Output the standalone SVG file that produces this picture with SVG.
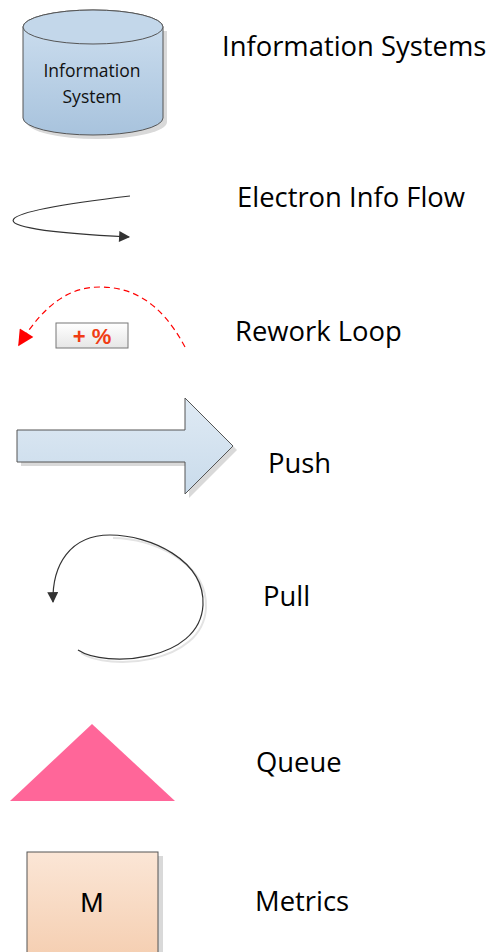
<svg xmlns="http://www.w3.org/2000/svg" width="502" height="952" viewBox="0 0 502 952">
<style>
.lbl{font-family:"Open Sans","Liberation Sans",sans-serif;font-size:27.4px;fill:#000}
.shadow{fill:#d9d9d9;stroke:none}
.edge{fill:none;stroke:#333;stroke-width:1.2}
</style>
<defs>
<linearGradient id="gBlue" x1="0" y1="0" x2="0" y2="1">
<stop offset="0" stop-color="#cfe0f0"/><stop offset="1" stop-color="#a8c3dd"/>
</linearGradient>
<linearGradient id="gArrow" x1="0" y1="0" x2="0" y2="1">
<stop offset="0" stop-color="#dfeaf4"/><stop offset="1" stop-color="#c9dbeb"/>
</linearGradient>
<linearGradient id="gPeach" x1="0" y1="0" x2="0" y2="1">
<stop offset="0" stop-color="#fbe6d6"/><stop offset="1" stop-color="#f5cfb2"/>
</linearGradient>
<linearGradient id="gBox" x1="0" y1="0" x2="0" y2="1">
<stop offset="0" stop-color="#ffffff"/><stop offset="1" stop-color="#e6e6e6"/>
</linearGradient>
<marker id="mDark" viewBox="0 0 10 10" refX="9" refY="5" markerWidth="14" markerHeight="11" markerUnits="userSpaceOnUse" orient="auto">
<path d="M0,0 L10,5 L0,10 z" fill="#333"/>
</marker>
<marker id="mRed" viewBox="0 0 10 10" refX="9" refY="5" markerWidth="18" markerHeight="16" markerUnits="userSpaceOnUse" orient="auto">
<path d="M0,0 L10,5 L0,10 z" fill="#ff0000"/>
</marker>
</defs>

<g id="info-system">
<path class="shadow" d="M27,31 L27,122 A70,17 0 0 0 167,122 L167,31 z"/>
<path d="M23,27 L23,118 A70,17 0 0 0 163,118 L163,27 A70,17 0 0 0 23,27 z" fill="url(#gBlue)" stroke="#555" stroke-width="1"/>
<ellipse cx="93" cy="27" rx="70" ry="17" fill="#c3d7ea" stroke="#555" stroke-width="1"/>
<text x="92" y="77" text-anchor="middle" font-family="Open Sans, Liberation Sans, sans-serif" font-size="17.5" fill="#111">Information</text>
<text x="92" y="103" text-anchor="middle" font-family="Open Sans, Liberation Sans, sans-serif" font-size="17.5" fill="#111">System</text>
</g>
<text class="lbl" x="222" y="56">Information Systems</text>

<g id="connectors">
<path id="electron-flow" class="edge" d="M130,196 C-5,212 -45,228 129,237" marker-end="url(#mDark)"/>
<path id="rework-loop" d="M185,347 C160,300 130,287 100,287 C70,287 45,303 19,345" fill="none" stroke="#ff0000" stroke-width="1.2" stroke-dasharray="6,4" marker-end="url(#mRed)"/>
<path d="M81,653 C108,671 203,665 206,608 C208,563 153,538 113,538" fill="none" stroke="#e3e3e3" stroke-width="2"/>
<path id="pull" class="edge" d="M78,650 C105,668 200,662 203,605 C205,560 150,535 110,535 C70,535 52,565 53,602" marker-end="url(#mDark)"/>
</g>
<text class="lbl" x="237" y="207">Electron Info Flow</text>

<g id="rework-box">
<rect x="56" y="323" width="72" height="25" fill="url(#gBox)" stroke="#777" stroke-width="1"/>
<text x="92" y="344" text-anchor="middle" font-family="Liberation Sans, Arial, sans-serif" font-weight="bold" font-size="22" fill="#f03c14">+ %</text>
</g>
<text class="lbl" x="235" y="341">Rework Loop</text>

<g id="push">
<path class="shadow" d="M21,434 L189,434 L189,402 L237,450 L189,498 L189,466 L21,466 z"/>
<path d="M17,430 L185,430 L185,398 L233,446 L185,494 L185,462 L17,462 z" fill="url(#gArrow)" stroke="#555" stroke-width="1"/>
</g>
<text class="lbl" x="268" y="473">Push</text>

<text class="lbl" x="263" y="606">Pull</text>

<g id="queue">
<polygon points="92,724 175,801 10,801" fill="#ff6699"/>
</g>
<text class="lbl" x="256" y="772">Queue</text>

<g id="metrics">
<rect x="31" y="856" width="132" height="100" class="shadow"/>
<rect x="27" y="852" width="131" height="104" fill="url(#gPeach)" stroke="#555" stroke-width="1"/>
<text x="92" y="912" text-anchor="middle" font-family="Liberation Sans, Arial, sans-serif" font-size="28" fill="#000">M</text>
</g>
<text class="lbl" x="255" y="911">Metrics</text>
</svg>
